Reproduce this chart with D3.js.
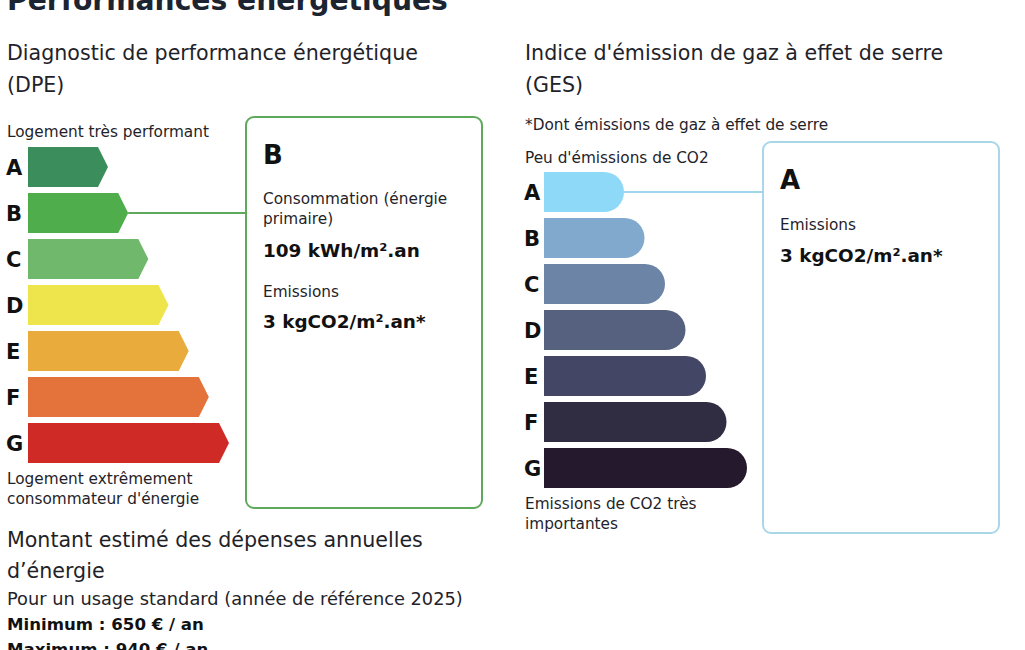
<!DOCTYPE html>
<html><head><meta charset="utf-8">
<script src="https://cdn.jsdelivr.net/npm/d3@7/dist/d3.min.js"></script>
<style>
html,body{margin:0;padding:0;background:#fff;}
svg{display:block;}
text{font-family:"DejaVu Sans",sans-serif;fill:#1f2329;}
</style></head>
<body>
<svg id="c" width="1025" height="650"></svg>
<script>
// ---- data ----
const classes = ["A","B","C","D","E","F","G"];
const dpeColors = ["#3b8d5c","#4fad4c","#70b96c","#eee54d","#e9ab3b","#e3733a","#cf2a25"];
const gesColors = ["#8ed9f8","#80a9cd","#6c85a6","#56617f","#444665","#302d43","#24192d"];
const dpeRating = "B";
const gesRating = "A";
const consumption = 109;   // kWh/m².an
const emissions = 3;       // kgCO2/m².an
const costMin = 650;
const costMax = 940;
const refYear = 2025;

const svg = d3.select("#c");

function txt(x, y, s, size, weight, fill){
  return svg.append("text").attr("x", x).attr("y", y).text(s)
    .style("font-size", size + "px").style("font-weight", weight || 400)
    .style("fill", fill || "#1f2329");
}

const H = 20.6;   // heading size
const S = 15.3;   // small text size

// Title
txt(7, 10, "Performances énergétiques", 28.2, 600, "#1b2430");

// ---- DPE ----
txt(7, 60, "Diagnostic de performance énergétique", H, 400);
txt(7, 92, "(DPE)", H, 400);
txt(7, 137, "Logement très performant", S, 400);

const dX0 = 28;
const dpeY = d3.scaleBand().domain(classes).range([147, 463]).paddingInner(6/46).paddingOuter(0);
const dpeLen = d3.scaleLinear().domain([0, classes.length - 1]).range([80, 201]);
const arrowDepth = 10;

const dg = svg.append("g");
classes.forEach((c, i) => {
  const y0 = dpeY(c), h = dpeY.bandwidth(), L = dpeLen(i);
  const p = d3.path();
  p.moveTo(dX0, y0);
  p.lineTo(dX0 + L - arrowDepth, y0);
  p.lineTo(dX0 + L, y0 + h / 2);
  p.lineTo(dX0 + L - arrowDepth, y0 + h);
  p.lineTo(dX0, y0 + h);
  p.closePath();
  dg.append("path").attr("d", p.toString()).attr("fill", dpeColors[i]);
  dg.append("text").attr("x", 6).attr("y", y0 + h / 2).attr("dy", "0.36em")
    .text(c).style("font-size", "21px").style("font-weight", 600).style("fill", "#111");
});

txt(7, 484, "Logement extrêmement", S, 400);
txt(7, 504, "consommateur d'énergie", S, 400);

// DPE box + connector
const dIdx = classes.indexOf(dpeRating);
const dBox = {x: 246, y: 117, w: 236, h: 391};
svg.append("line")
  .attr("x1", dX0 + dpeLen(dIdx)).attr("x2", dBox.x)
  .attr("y1", dpeY(dpeRating) + dpeY.bandwidth() / 2).attr("y2", dpeY(dpeRating) + dpeY.bandwidth() / 2)
  .attr("stroke", "#5ea95c").attr("stroke-width", 2);
svg.append("rect").attr("x", dBox.x).attr("y", dBox.y).attr("width", dBox.w).attr("height", dBox.h)
  .attr("rx", 8).attr("fill", "#fff").attr("stroke", "#5ea95c").attr("stroke-width", 2);
txt(263, 164, dpeRating, 26, 600, "#111");
txt(263, 204, "Consommation (énergie", S, 400);
txt(263, 224, "primaire)", S, 400);
txt(263, 257, consumption + " kWh/m².an", 18.4, 600, "#111");
txt(263, 297, "Emissions", S, 400);
txt(263, 328, emissions + " kgCO2/m².an*", 18.4, 600, "#111");

// Cost section
txt(7, 547, "Montant estimé des dépenses annuelles", H, 400);
txt(7, 578, "d’énergie", H, 400);
txt(7, 605, "Pour un usage standard (année de référence " + refYear + ")", 17.8, 400);
txt(7, 630, "Minimum : " + costMin + " € / an", 16.6, 600, "#111");
txt(7, 655, "Maximum : " + costMax + " € / an", 16.6, 600, "#111");

// ---- GES ----
txt(525, 60, "Indice d'émission de gaz à effet de serre", H, 400);
txt(525, 92, "(GES)", H, 400);
txt(525, 130, "*Dont émissions de gaz à effet de serre", S, 400);
txt(525, 163, "Peu d'émissions de CO2", S, 400);

const gX0 = 544;
const gesY = d3.scaleBand().domain(classes).range([172, 488]).paddingInner(6/46).paddingOuter(0);
const gesLen = d3.scaleLinear().domain([0, classes.length - 1]).range([80, 203]);

const gg = svg.append("g");
classes.forEach((c, i) => {
  const y0 = gesY(c), h = gesY.bandwidth(), L = gesLen(i), r = h / 2;
  const p = d3.path();
  p.moveTo(gX0, y0);
  p.lineTo(gX0 + L - r, y0);
  p.arc(gX0 + L - r, y0 + r, r, -Math.PI / 2, Math.PI / 2);
  p.lineTo(gX0, y0 + h);
  p.closePath();
  gg.append("path").attr("d", p.toString()).attr("fill", gesColors[i]);
  gg.append("text").attr("x", 524).attr("y", y0 + h / 2).attr("dy", "0.36em")
    .text(c).style("font-size", "21px").style("font-weight", 600).style("fill", "#111");
});

txt(525, 509, "Emissions de CO2 très", S, 400);
txt(525, 529, "importantes", S, 400);

const gIdx = classes.indexOf(gesRating);
const gBox = {x: 763, y: 142, w: 236, h: 391};
svg.append("line")
  .attr("x1", gX0 + gesLen(gIdx)).attr("x2", gBox.x)
  .attr("y1", gesY(gesRating) + gesY.bandwidth() / 2).attr("y2", gesY(gesRating) + gesY.bandwidth() / 2)
  .attr("stroke", "#9fd5ea").attr("stroke-width", 2);
svg.append("rect").attr("x", gBox.x).attr("y", gBox.y).attr("width", gBox.w).attr("height", gBox.h)
  .attr("rx", 8).attr("fill", "#fff").attr("stroke", "#a9d7e8").attr("stroke-width", 2);
txt(780, 189, gesRating, 26, 600, "#111");
txt(780, 230, "Emissions", S, 400);
txt(780, 262, emissions + " kgCO2/m².an*", 18.4, 600, "#111");
</script>
</body></html>
